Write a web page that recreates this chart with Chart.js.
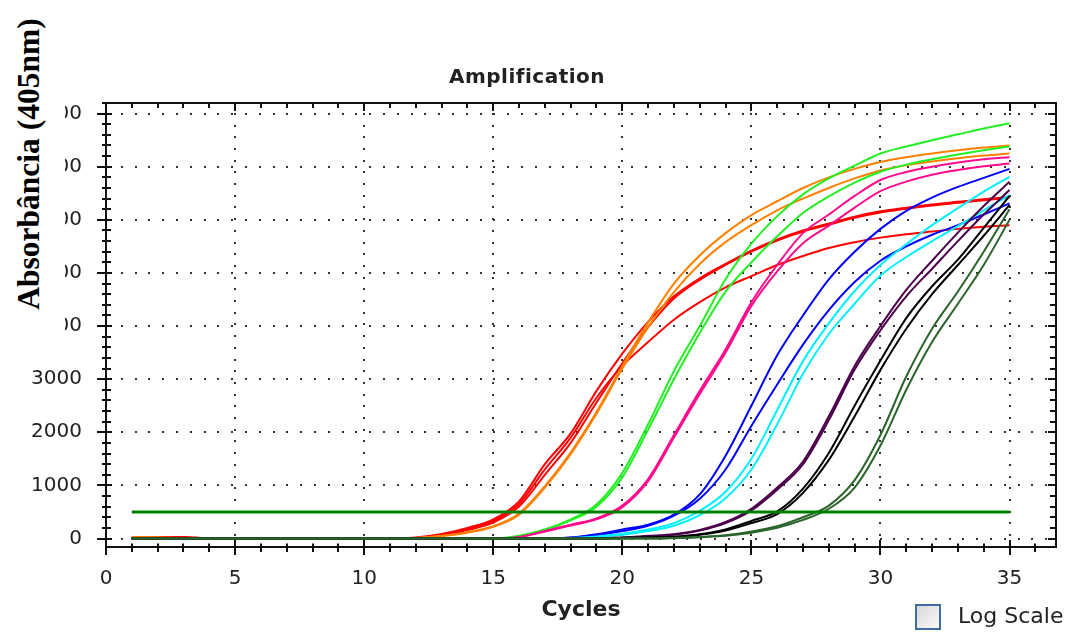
<!DOCTYPE html>
<html>
<head>
<meta charset="utf-8">
<script src="https://cdn.jsdelivr.net/npm/chart.js@4.4.1/dist/chart.umd.min.js"></script>
<style>
  body { margin: 0; background: #fff; }
  #wrap { position: relative; width: 1072px; height: 632px; overflow: hidden; background: #fff; }
  #title { position: absolute; left: 377px; width: 300px; top: 64px; text-align: center;
           font: bold 20px "DejaVu Sans", sans-serif; letter-spacing: 0.5px; color: #222; }
  #cover { position: absolute; left: 0; top: 0; width: 65px; height: 345px; background: #fff; }
  #ylabel { position: absolute; left: -131px; top: 146px; width: 320px; height: 36px; line-height: 36px;
            text-align: center; transform: rotate(-90deg); white-space: nowrap;
            font: bold 31.5px "Liberation Serif", "Times New Roman", serif; color: #000; }
  #logbox { position: absolute; left: 915px; top: 604px; width: 22px; height: 22px;
            border: 2px solid #3c6f9f; background: linear-gradient(135deg, #d8d8d8, #fafafa); }
  #logtxt { position: absolute; left: 958px; top: 603px; font: 22px "DejaVu Sans", sans-serif; color: #222; }
</style>
</head>
<body>
<div id="wrap">
  <canvas id="chart" width="1072" height="632"></canvas>
  <div id="title">Amplification</div>
  <div id="cover"></div>
  <div id="ylabel">Absorbância (405nm)</div>
  <div id="logbox"></div>
  <div id="logtxt">Log Scale</div>
</div>
<script>
const cycles = [1,2,3,4,5,6,7,8,9,10,11,12,13,14,15,16,17,18,19,20,21,22,23,24,25,26,27,28,29,30,31,32,33,34,35];
const threshold = 500;

// values, cycle 1..35
const red1 = [25,25,25,0,0,0,0,0,0,0,5,20,85,200,360,700,1400,1980,2780,3480,4080,4560,4900,5170,5420,5630,5800,5930,6060,6160,6230,6290,6340,6390,6430];
const red2 = [0,25,25,0,0,0,0,0,0,0,0,10,60,160,300,600,1200,1800,2560,3300,3980,4520,4870,5150,5400,5610,5780,5910,6040,6140,6210,6270,6320,6370,6420];
const red3 = [0,25,25,0,0,0,0,0,0,0,0,10,70,180,330,650,1300,1900,2650,3250,3700,4120,4450,4730,4940,5150,5320,5470,5580,5665,5730,5780,5830,5870,5900];
const orange1 = [25,25,0,0,0,0,0,0,0,0,0,10,50,120,230,470,985,1620,2380,3250,4070,4800,5330,5750,6090,6350,6600,6800,6960,7090,7180,7250,7310,7360,7400];
const orange2 = [25,0,0,0,0,0,0,0,0,0,0,8,45,110,220,450,960,1590,2350,3200,3980,4640,5170,5580,5900,6180,6400,6600,6780,6930,7030,7100,7160,7210,7250];
const green1 = [0,0,0,0,0,0,0,0,0,0,0,0,0,0,0,50,170,360,640,1235,2150,3150,4000,4880,5550,6070,6480,6780,7020,7250,7380,7500,7610,7720,7820];
const green2 = [0,0,0,0,0,0,0,0,0,0,0,0,0,0,0,45,160,340,600,1150,2050,3000,3870,4650,5200,5690,6130,6440,6700,6905,7040,7140,7230,7310,7380];
const pink1 = [0,0,0,0,0,0,0,0,0,0,0,0,0,0,0,30,140,260,380,620,1120,1950,2780,3560,4450,5150,5750,6100,6450,6750,6900,7000,7080,7140,7180];
const pink2 = [0,0,0,0,0,0,0,0,0,0,0,0,0,0,0,25,130,245,360,590,1080,1900,2720,3500,4380,5030,5560,5890,6230,6540,6720,6850,6940,7010,7060];
const blue1 = [0,0,0,0,0,0,0,0,0,0,0,0,0,0,0,0,0,20,80,170,260,450,830,1560,2500,3450,4200,4880,5400,5830,6170,6420,6620,6790,6960];
const blue2 = [0,0,0,0,0,0,0,0,0,0,0,0,0,0,0,0,0,15,60,140,240,430,750,1300,2120,2900,3650,4300,4830,5230,5500,5720,5900,6100,6310];
const cyan1 = [0,0,0,0,0,0,0,0,0,0,0,0,0,0,0,0,0,10,40,90,170,290,520,880,1500,2420,3340,4050,4660,5150,5540,5900,6220,6530,6810];
const cyan2 = [0,0,0,0,0,0,0,0,0,0,0,0,0,0,0,0,0,5,30,70,140,240,440,760,1300,2150,3100,3850,4420,4950,5300,5600,5880,6180,6465];
const purple1 = [0,0,0,0,0,0,0,0,0,0,0,0,0,0,0,0,0,0,0,20,50,80,160,310,560,960,1450,2300,3250,4000,4680,5230,5760,6260,6720];
const purple2 = [0,0,0,0,0,0,0,0,0,0,0,0,0,0,0,0,0,0,0,20,40,70,150,290,530,920,1400,2230,3180,3920,4560,5080,5600,6100,6560];
const black1 = [0,0,0,0,0,0,0,0,0,0,0,0,0,0,0,0,0,0,0,10,20,35,80,170,330,510,940,1610,2500,3350,4150,4750,5250,5850,6450];
const black2 = [0,0,0,0,0,0,0,0,0,0,0,0,0,0,0,0,0,0,0,5,15,30,70,150,290,460,860,1480,2300,3175,3950,4600,5150,5700,6280];
const dkgreen1 = [0,0,0,0,0,0,0,0,0,0,0,0,0,0,0,0,0,0,0,0,0,10,30,60,130,230,400,620,1100,1950,3050,3950,4650,5400,6200];
const dkgreen2 = [0,0,0,0,0,0,0,0,0,0,0,0,0,0,0,0,0,0,0,0,0,10,25,50,110,200,350,560,960,1750,2800,3700,4420,5150,6000];

const xTicks = [0,5,10,15,20,25,30,35];
const yTicks = [0,1000,2000,3000,4000,5000,6000,7000,8000];

// first in list is drawn on top
const series = [
  [dkgreen1, "#2a642a"], [dkgreen2, "#2a642a"],
  [black1, "#000000"], [black2, "#000000"],
  [purple1, "#4c004c"], [purple2, "#4c004c"],
  [cyan1, "#00f0ff"], [cyan2, "#00f0ff"],
  [blue1, "#0000ff"], [blue2, "#0000ff"],
  [pink1, "#ff0a8c"], [pink2, "#ff0a8c"],
  [green1, "#22f022"], [green2, "#22f022"],
  [orange1, "#ff8000"], [orange2, "#ff8000"],
  [red1, "#ff0000"], [red2, "#ff0000"], [red3, "#ff0000"]
];

const datasets = [{
  data: [{x: cycles[0], y: threshold}, {x: cycles[cycles.length - 1], y: threshold}],
  borderColor: "#008000", borderWidth: 3, pointRadius: 0
}].concat(series.map(([vals, col]) => ({
  data: cycles.map((c, i) => ({x: c, y: vals[i]})),
  borderColor: col, borderWidth: 2, pointRadius: 0, cubicInterpolationMode: "monotone"
})));

const framePlugin = {
  id: "frame",
  beforeDatasetsDraw(chart) {
    const {ctx, chartArea: a, scales: {x, y}} = chart;
    ctx.save();
    ctx.fillStyle = "#333";
    xTicks.slice(1).forEach(v => {
      const px = Math.round(x.getPixelForValue(v));
      for (let py = a.bottom - 12; py > a.top + 4; py -= 11.7) ctx.fillRect(px - 1, Math.round(py) - 1, 2, 2);
    });
    yTicks.forEach(v => {
      const py = Math.round(y.getPixelForValue(v));
      for (let px = a.left + 15.7; px < a.right - 4; px += 13.8) ctx.fillRect(Math.round(px) - 1, py - 1, 2, 2);
    });
    ctx.restore();
  },
  afterDraw(chart) {
    const {ctx, chartArea: a, scales: {x, y}} = chart;
    ctx.save();
    ctx.strokeStyle = "#111";
    ctx.lineWidth = 2;
    ctx.strokeRect(a.left, a.top, a.right - a.left, a.bottom - a.top);
    ctx.beginPath();
    for (let v = 0; v <= x.max; v++) {
      const px = Math.round(x.getPixelForValue(v));
      const major = v % 5 === 0;
      ctx.moveTo(px, a.bottom - (major ? 7 : 3.5));
      ctx.lineTo(px, a.bottom + (major ? 8 : 5));
      ctx.moveTo(px, a.top);
      ctx.lineTo(px, a.top + (major ? 8 : 5));
    }
    for (let v = 0; v <= y.max; v += 200) {
      const py = Math.round(y.getPixelForValue(v));
      const major = v % 1000 === 0;
      ctx.moveTo(a.left - (major ? 9 : 4), py);
      ctx.lineTo(a.left + (major ? 6 : 5), py);
      ctx.moveTo(a.right, py);
      ctx.lineTo(a.right - (major ? 8 : 6), py);
    }
    ctx.stroke();
    ctx.restore();
  }
};

const tickFont = {family: "DejaVu Sans", size: 20};

new Chart(document.getElementById("chart"), {
  type: "line",
  data: {datasets},
  options: {
    responsive: false,
    animation: false,
    layout: {padding: {left: 0, right: 16, top: 103, bottom: 0}},
    plugins: {legend: {display: false}, tooltip: {enabled: false}, title: {display: false}},
    scales: {
      x: {
        type: "linear", min: 0, max: 36.8,
        afterFit: s => { s.height = 85; },
        afterBuildTicks: s => { s.ticks = xTicks.map(v => ({value: v})); },
        grid: {display: false, drawTicks: false}, border: {display: false},
        ticks: {padding: 20, font: tickFont, color: "#222", maxRotation: 0, autoSkip: false, callback: v => String(v)},
        title: {display: true, text: "Cycles", color: "#222", font: {family: "DejaVu Sans", size: 22, weight: "bold"}, padding: {top: 0, bottom: 9}}
      },
      y: {
        min: -160, max: 8200,
        afterFit: s => { s.width = 106; },
        afterBuildTicks: s => { s.ticks = yTicks.map(v => ({value: v})); },
        grid: {display: false, drawTicks: false}, border: {display: false},
        ticks: {padding: 24, font: tickFont, color: "#222", autoSkip: false, callback: v => String(v)}
      }
    }
  },
  plugins: [framePlugin]
});
</script>
</body>
</html>
